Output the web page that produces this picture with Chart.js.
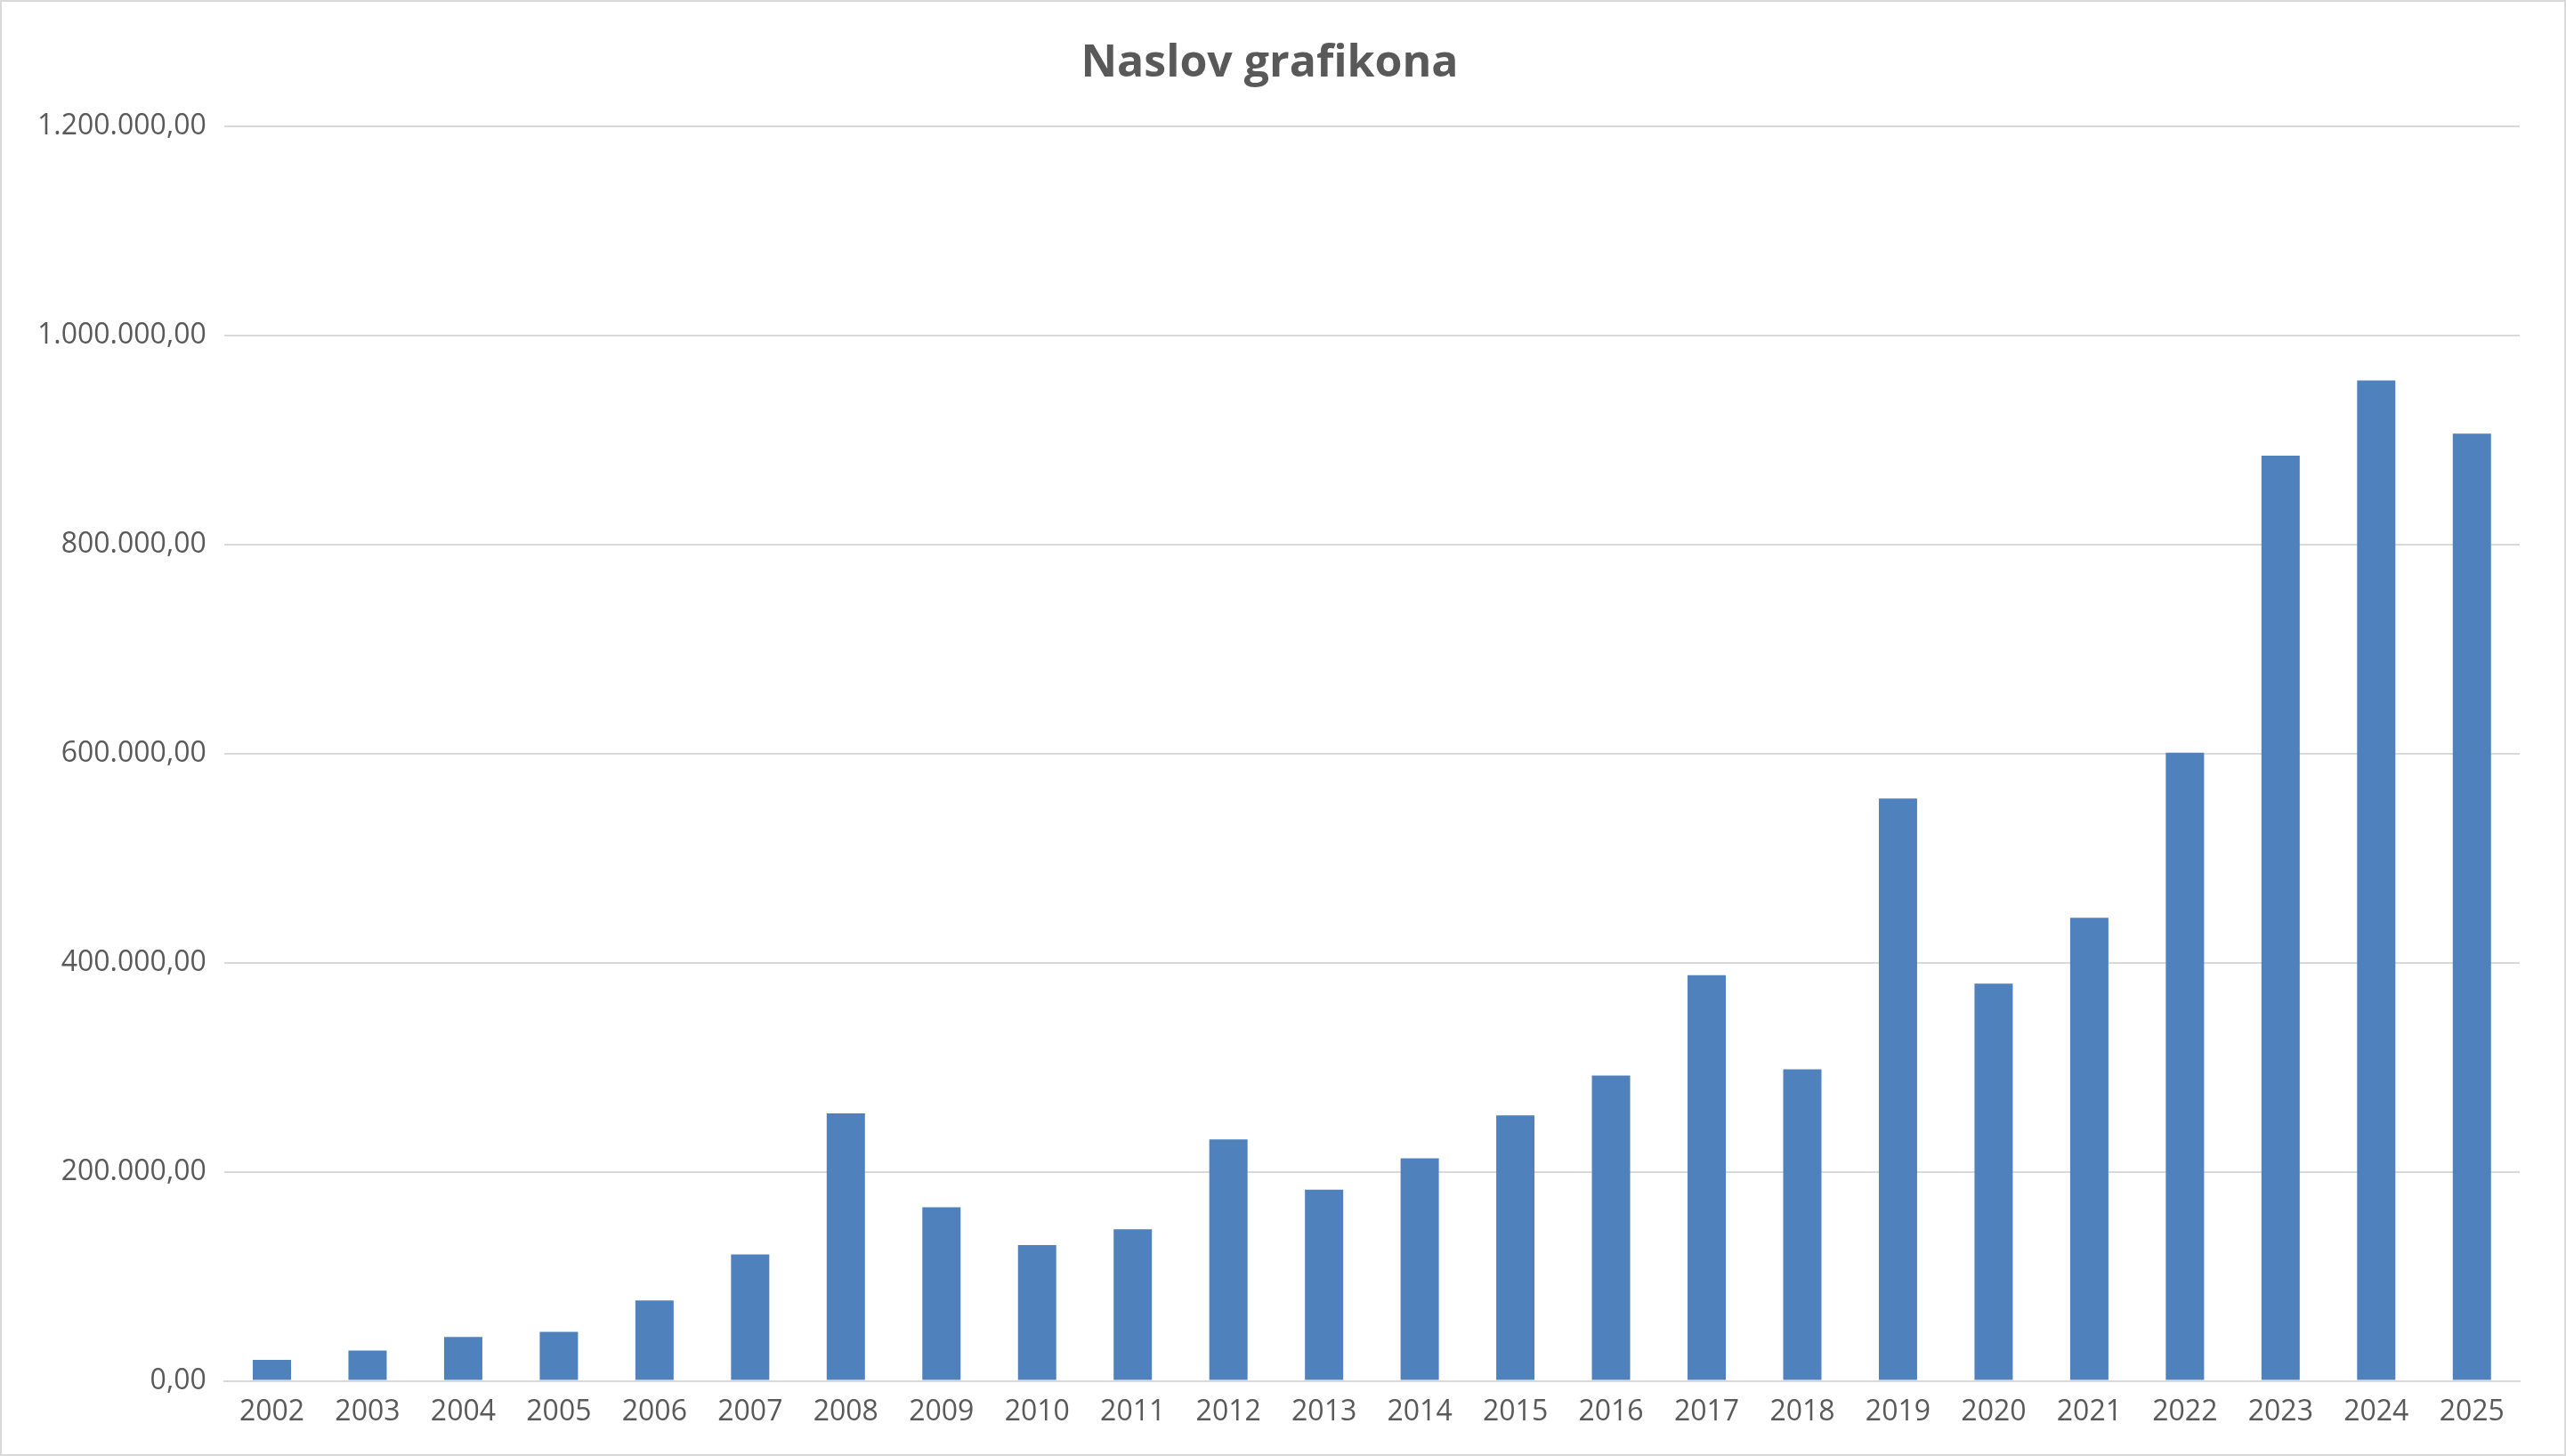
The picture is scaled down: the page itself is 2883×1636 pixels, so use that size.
<!DOCTYPE html>
<html><head><meta charset="utf-8">
<script src="https://cdn.jsdelivr.net/npm/chart.js@4"></script>
<style>html,body{margin:0;padding:0;background:#fff}#w{width:2883px;height:1636px;position:relative;box-sizing:border-box;border:2px solid #d9d9d9}</style>
</head><body><div id="w"><canvas id="c"></canvas></div>
<script>
const years = ["2002","2003","2004","2005","2006","2007","2008","2009","2010","2011","2012","2013","2014","2015","2016","2017","2018","2019","2020","2021","2022","2023","2024","2025"];
const values = [20000,29000,42000,47000,77000,121000,256000,166000,130000,145000,231000,183000,213000,254000,292000,388000,298000,557000,380000,443000,601000,885000,957000,906000];
const fmt = v => { const s = Math.round(v).toString().replace(/\B(?=(\d{3})+(?!\d))/g, "."); return s + ",00"; };
new Chart(document.getElementById('c'), {
  type: 'bar',
  data: { labels: years, datasets: [{ data: values, backgroundColor: '#4f81bd', barPercentage: 0.4, categoryPercentage: 1 }] },
  options: {
    responsive: true, maintainAspectRatio: false, animation: false,
    layout: { padding: { left: 20, right: 50, top: 40, bottom: 20 } },
    plugins: { legend: { display: false }, tooltip: { enabled: false },
      title: { display: true, text: 'Naslov grafikona', color: '#595959', font: { family: 'Open Sans', size: 50 }, padding: { bottom: 40 } } },
    scales: {
      x: { grid: { display: false }, border: { color: '#d9d9d9', width: 2 }, ticks: { color: '#595959', font: { family: 'Open Sans', size: 32 }, padding: 8 } },
      y: { min: 0, max: 1200000, border: { display: false }, grid: { color: '#d9d9d9', lineWidth: 2, drawTicks: false },
           ticks: { stepSize: 200000, color: '#595959', font: { family: 'Open Sans', size: 32 }, padding: 20, callback: v => fmt(v) } }
    }
  }
});
</script></body></html>
